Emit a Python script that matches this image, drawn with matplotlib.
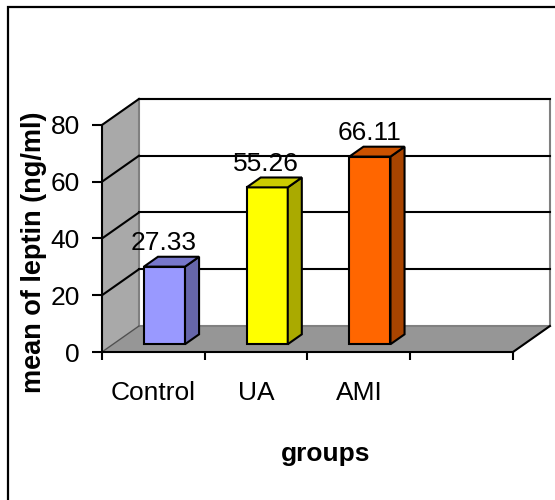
import matplotlib
matplotlib.use('Agg')
import matplotlib.pyplot as plt
from matplotlib.patches import Rectangle

plt.rcParams['font.family'] = 'Liberation Sans'

groups = ['Control', 'UA', 'AMI', '']
leptin = [27.33, 55.26, 66.11]
front_colors = ['#9999FF', '#FFFF00', '#FF6600']
side_colors = ['#6666AA', '#AAAA00', '#A84400']
top_colors = ['#7777CC', '#CCCC00', '#CC5200']
yticks = [0, 20, 40, 60, 80]

# oblique depth of the box, in data units
dx, dy = 0.36, 9.16
# bar sits between these depth fractions, bar width in category units
d0, d1 = 0.3, 0.68
width = 0.4
ymax = 80
n = len(groups)
fs = 19

fig = plt.figure(figsize=(5.55, 5.0), dpi=100)
ax = fig.add_axes([102 / 555, 148 / 500, 450 / 555, 255 / 500])
ax.set_xlim(0, 4.38)
ax.set_ylim(0, 89.85)
for s in ax.spines.values():
    s.set_visible(False)

# walls and floor
ax.fill([0, n, n + dx, dx], [0, 0, dy, dy], color='#969696', zorder=1, clip_on=False)
ax.fill([0, dx, dx, 0], [0, dy, ymax + dy, ymax], color='#A9A9A9', zorder=1, clip_on=False)
ax.fill([dx, n + dx, n + dx, dx], [dy, dy, ymax + dy, ymax + dy],
        facecolor='white', edgecolor='#808080', lw=1.5, zorder=1, clip_on=False)

# gridlines on back and side wall
for t in yticks[1:]:
    ax.plot([dx, n + dx], [t + dy, t + dy], color='black', lw=1.5, zorder=2, clip_on=False)
    ax.plot([0, dx], [t, t + dy], color='black', lw=1.5, zorder=2, clip_on=False)
ax.plot([0, dx], [0, dy], color='#505050', lw=1, zorder=2)
ax.plot([n, n + dx], [0, dy], color='black', lw=1.5, zorder=2, clip_on=False)

# axis lines
ax.plot([0, 0], [0, ymax], color='black', lw=1.5, zorder=3, clip_on=False)
ax.plot([0, n], [0, 0], color='black', lw=1.5, zorder=3, clip_on=False)

# 3d bars
for i, v in enumerate(leptin):
    x0 = i + 0.5 - width / 2 + d0 * dx
    x1 = x0 + width
    y0 = d0 * dy
    ex, ey = (d1 - d0) * dx, (d1 - d0) * dy
    ax.fill([x0, x1, x1, x0], [y0, y0, y0 + v, y0 + v],
            facecolor=front_colors[i], edgecolor='black', lw=1.5, zorder=4)
    ax.fill([x1, x1 + ex, x1 + ex, x1], [y0, y0 + ey, y0 + v + ey, y0 + v],
            facecolor=side_colors[i], edgecolor='black', lw=1.5, zorder=4)
    ax.fill([x0, x1, x1 + ex, x0 + ex], [y0 + v, y0 + v, y0 + v + ey, y0 + v + ey],
            facecolor=top_colors[i], edgecolor='black', lw=1.5, zorder=4)
    ax.text(i + 0.6, v + 8.5, f'{v:.2f}', ha='center', va='baseline',
            fontsize=fs, zorder=5)

ax.set_yticks(yticks)
ax.tick_params(axis='y', direction='out', length=7, width=1.5, pad=9, labelsize=fs)
ax.set_xticks(range(n + 1))
ax.set_xticklabels([])
ax.set_xticks([i + 0.5 for i in range(n)], minor=True)
ax.set_xticklabels(groups, minor=True)
ax.tick_params(axis='x', which='major', direction='out', length=6, width=1.5)
ax.tick_params(axis='x', which='minor', length=0, pad=21, labelsize=fs)

ax.set_ylabel('mean of leptin (ng/ml)', fontsize=fs + 0.5, fontweight='bold')
ax.yaxis.set_label_coords(-0.151, 0.392)
ax.yaxis.label.set_va('center')
ax.set_xlabel('groups', fontsize=fs, fontweight='bold')
ax.xaxis.set_label_coords(0.497, -0.40)
ax.xaxis.label.set_va('center')

# chart border
fig.patches.append(Rectangle((8 / 555, -0.1), 1.2, (493 / 500) + 0.1, transform=fig.transFigure,
                             fill=False, edgecolor='black', lw=1.6))

fig.savefig('out.png', dpi=100)
